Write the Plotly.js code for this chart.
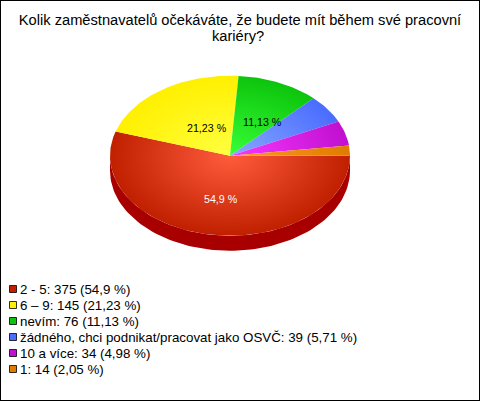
<!DOCTYPE html>
<html><head><meta charset="utf-8">
<script src="https://cdn.plot.ly/plotly-3.0.1.min.js"></script>
<style>html,body{margin:0;padding:0;background:#fff}</style></head>
<body><div id="chart" style="width:480px;height:401px"></div>
<script>
const categories = ["2 - 5","6 – 9","nevím","žádného, chci podnikat/pracovat jako OSVČ","10 a více","1"];
const counts = [375,145,76,39,34,14];
const percentLabels = ["54,9 %","21,23 %","11,13 %","5,71 %","4,98 %","2,05 %"];
const edgeColors = ["#c02000","#fff000","#0cc40c","#4a6cff","#c010d0","#e07c00"];
const centerColors = ["#ff5c3c","#ffff40","#38ff38","#88a8ff","#f838ff","#ff9828"];
const wallColor = "#a80000";
const titleLines = ["Kolik zaměstnavatelů očekáváte, že budete mít během své pracovní","kariéry?"];

// Layout geometry (pixels, same as axis units)
const cx=230, cy=155.7, rx=120, ry=80, depth=15;
const sliceLabelPos = [[221,199,"#fff"],[206.5,128,"#000"],[262,122,"#000"]];
const legendX=13, legendY0=289, legendStep=16;

const total = counts.reduce((a,b)=>a+b,0);
const traces=[], annotations=[];
const px=a=>cx+rx*Math.cos(a), py=a=>cy+ry*Math.sin(a);

const wx=[],wy=[];
for(let d=0;d<=180;d+=2){const a=d*Math.PI/180;wx.push(px(a));wy.push(py(a));}
for(let d=180;d>=0;d-=2){const a=d*Math.PI/180;wx.push(px(a));wy.push(py(a)+depth);}
traces.push({type:"scatter",mode:"lines",x:wx,y:wy,fill:"toself",fillcolor:wallColor,line:{width:0},hoverinfo:"skip",showlegend:false});

let start=0;
counts.forEach((v,i)=>{
  const sweep=v/total*2*Math.PI;
  const xs=[cx,cx-rx,cx,cx+rx,cx], ys=[cy,cy-ry,cy,cy+ry,cy];
  const n=Math.max(4,Math.ceil(sweep/0.02));
  for(let k=0;k<=n;k++){const a=start+sweep*k/n;xs.push(px(a));ys.push(py(a));}
  xs.push(cx);ys.push(cy);
  traces.push({type:"scatter",mode:"lines",name:categories[i],x:xs,y:ys,fill:"toself",
    fillgradient:{type:"radial",colorscale:[[0,centerColors[i]],[1,edgeColors[i]]]},
    line:{width:0},hoverinfo:"skip",showlegend:false});
  start+=sweep;
});

traces.push({type:"scatter",mode:"markers",x:categories.map(()=>legendX),y:categories.map((c,i)=>legendY0+i*legendStep),
  marker:{symbol:"square",size:7,color:edgeColors,line:{color:"#000",width:0.8}},hoverinfo:"skip",showlegend:false});
categories.forEach((c,i)=>annotations.push({x:legendX+5,y:legendY0+i*legendStep,xref:"x",yref:"y",xanchor:"left",yanchor:"middle",
  showarrow:false,align:"left",text:`${c}: ${counts[i]} (${percentLabels[i]})`,font:{family:"Liberation Sans",size:13.33,color:"#000"}}));
sliceLabelPos.forEach((p,i)=>annotations.push({x:p[0],y:p[1],xref:"x",yref:"y",showarrow:false,text:percentLabels[i],
  font:{family:"Liberation Sans",size:10.67,color:p[2]}}));
annotations.push({x:238,y:36,xref:"x",yref:"y",showarrow:false,text:titleLines[1],font:{family:"Liberation Sans",size:14.67,color:"#000"}});

Plotly.newPlot("chart",traces,{
  width:480,height:401,margin:{l:0,r:0,t:0,b:0},paper_bgcolor:"#fff",plot_bgcolor:"#fff",showlegend:false,
  title:{text:titleLines[0],x:0.5,xanchor:"center",xref:"paper",y:0.95,yref:"paper",yanchor:"middle",font:{family:"Liberation Sans",size:14.67,color:"#000"}},
  xaxis:{range:[0,480],visible:false,fixedrange:true},
  yaxis:{range:[401,0],visible:false,fixedrange:true},
  annotations,
  shapes:[{type:"rect",xref:"paper",yref:"paper",x0:0,x1:1,y0:0,y1:1,line:{color:"#000",width:2}}]
},{displayModeBar:false,staticPlot:true});
</script></body></html>
